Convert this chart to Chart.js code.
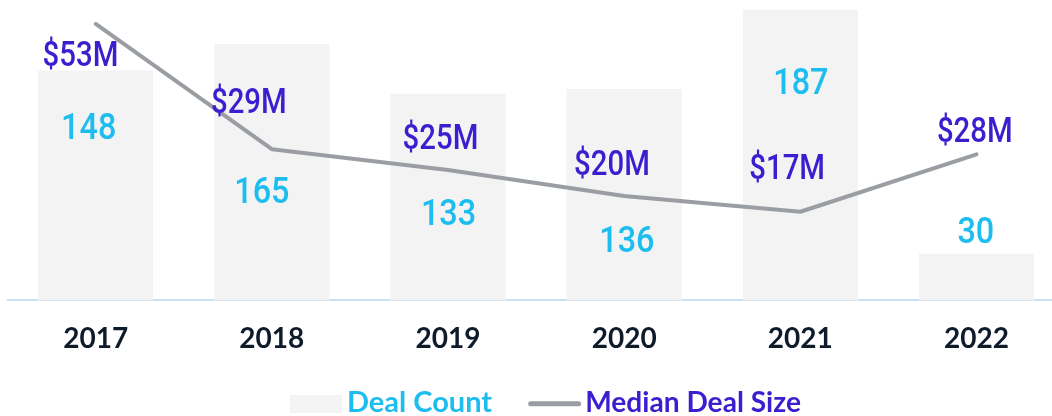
<!DOCTYPE html>
<html><head><meta charset="utf-8">
<script src="https://cdn.jsdelivr.net/npm/chart.js@4/dist/chart.umd.min.js"></script>
<style>
html,body{margin:0;padding:0;background:#fff;overflow:hidden;}
#wrap{position:relative;width:1066px;height:416px;}
</style></head><body>
<div id="wrap"><canvas id="c"></canvas></div>
<script>
const categories = ['2017', '2018', '2019', '2020', '2021', '2022'];
const dealCount = [148, 165, 133, 136, 187, 30];
const medianDealSize = [53, 29, 25, 20, 17, 28];
const seriesNames = ['Deal Count', 'Median Deal Size'];

// label placement offsets (px) relative to each mark (layout only)
const countLabelDX = [-7, -10, 0.5, 2.7, 0.5, -0.7];
const countLabelDY = [56.3, 146, 118.7, 150.6, 71, -23.3];
const sizeLabelDX = [-15.2, -23, -7.5, -12.2, -13.2, -1.7];
const sizeLabelDY = [29.9, -48.4, -33.6, -33.2, -44.7, -24.4];

const BAR_COLOR = '#f3f3f3';
const LINE_COLOR = '#9a9ea3';
const CYAN = '#1ebdef';
const PURPLE = '#3b1fcf';
const TICK_COLOR = '#0e1b2b';

function drawLabel(ctx, text, cx, cy, size, sx, color) {
  ctx.save();
  ctx.font = '500 ' + size + 'px Roboto';
  ctx.fillStyle = color;
  ctx.textAlign = 'center';
  ctx.textBaseline = 'alphabetic';
  ctx.translate(cx, cy + size * 0.711 / 2);
  ctx.scale(sx, 1);
  ctx.fillText(text, 0, 0);
  ctx.restore();
}

const labelPlugin = {
  id: 'valueLabels',
  afterDatasetsDraw(chart) {
    const ctx = chart.ctx;
    const barMeta = chart.getDatasetMeta(0);
    const lineMeta = chart.getDatasetMeta(1);
    barMeta.data.forEach((el, i) => {
      drawLabel(ctx, String(dealCount[i]), el.x + countLabelDX[i], el.y + countLabelDY[i], 36, 0.9, CYAN);
    });
    lineMeta.data.forEach((el, i) => {
      drawLabel(ctx, '$' + medianDealSize[i] + 'M', el.x + sizeLabelDX[i], el.y + sizeLabelDY[i], 35, 0.84, PURPLE);
    });
  }
};

const legendPlugin = {
  id: 'customLegend',
  afterDraw(chart) {
    const ctx = chart.ctx;
    const ds = chart.data.datasets;
    ctx.save();
    ctx.font = '700 29px Lato';
    ctx.textAlign = 'left';
    ctx.textBaseline = 'alphabetic';
    let x = 290;
    const baseline = 411.7;
    ctx.fillStyle = ds[0].backgroundColor;
    ctx.fillRect(x, 395, 52, 18);
    x += 52 + 5;
    ctx.fillStyle = CYAN;
    ctx.fillText(ds[0].label, x, baseline);
    x += ctx.measureText(ds[0].label).width + 36;
    ctx.strokeStyle = ds[1].borderColor;
    ctx.lineWidth = 5;
    ctx.lineCap = 'round';
    ctx.beginPath();
    ctx.moveTo(x + 2.5, 403.7);
    ctx.lineTo(x + 50.5, 403.7);
    ctx.stroke();
    x += 53 + 4;
    ctx.fillStyle = PURPLE;
    ctx.save();
    ctx.translate(x, baseline);
    ctx.scale(0.97, 1);
    ctx.fillText(ds[1].label, 0, 0);
    ctx.restore();
    ctx.restore();
  }
};

new Chart(document.getElementById('c'), {
  data: {
    labels: categories,
    datasets: [
      {
        type: 'bar',
        label: seriesNames[0],
        data: dealCount,
        backgroundColor: BAR_COLOR,
        borderWidth: 0,
        yAxisID: 'y',
        order: 1,
        categoryPercentage: 1,
        barPercentage: 0.653
      },
      {
        type: 'line',
        label: seriesNames[1],
        data: medianDealSize,
        borderColor: LINE_COLOR,
        backgroundColor: LINE_COLOR,
        borderWidth: 4,
        borderCapStyle: 'round',
        borderJoinStyle: 'round',
        pointRadius: 0,
        tension: 0,
        yAxisID: 'y1',
        order: 0
      }
    ]
  },
  options: {
    responsive: true,
    maintainAspectRatio: false,
    animation: false,
    layout: { padding: { top: 0, left: 7.6, right: 1.4, bottom: 38 } },
    plugins: {
      legend: { display: false },
      tooltip: { enabled: false }
    },
    scales: {
      x: {
        offset: true,
        grid: { display: false, drawTicks: false },
        border: { display: true, color: '#c8e1f5', width: 2 },
        ticks: {
          padding: 22,
          color: TICK_COLOR,
          font: { family: 'Lato', weight: '700', size: 28 }
        }
      },
      y: { display: false, min: 0, max: 193.3 },
      y1: { display: false, min: 0, max: 57.6 }
    }
  },
  plugins: [labelPlugin, legendPlugin]
});
</script>
</body></html>
